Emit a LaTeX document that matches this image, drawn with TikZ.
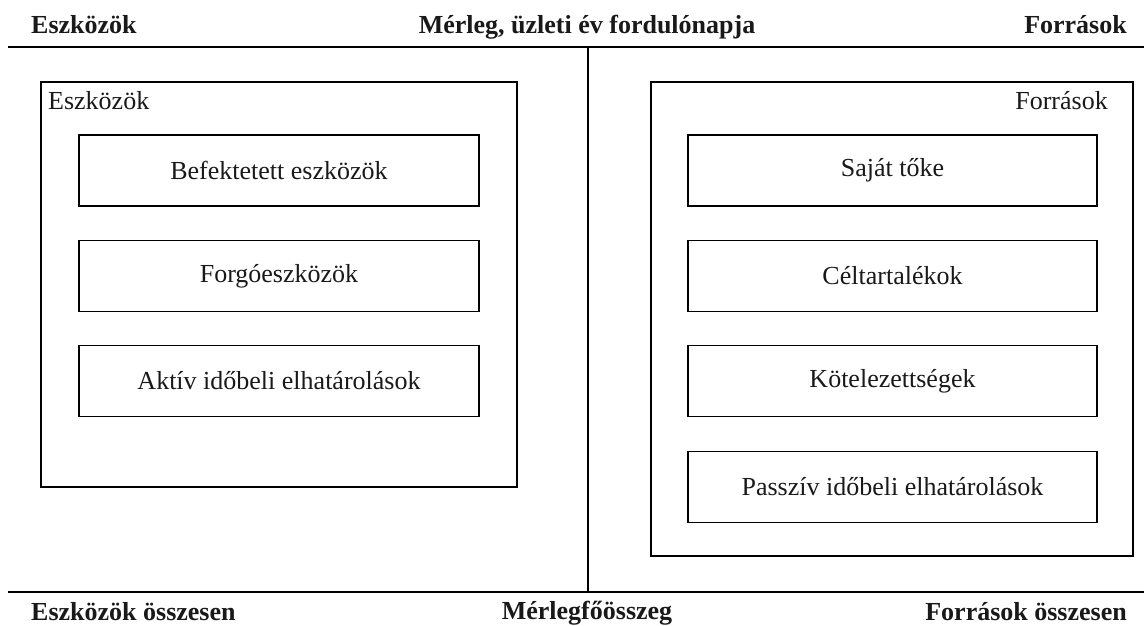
\documentclass[tikz,border=0pt]{standalone}
\usepackage{fontspec}
\setmainfont{Liberation Serif}
\begin{document}
\begin{tikzpicture}[x=1pt,y=-1pt,
  every node/.style={font=\fontsize{26}{30}\selectfont, text=black!90},
  hdr/.style={font=\fontsize{26}{30}\selectfont\bfseries, inner sep=0pt},
  frame/.style={draw, line width=1.1pt, inner sep=0pt},
  itembox/.style={draw, line width=1.1pt, inner sep=0pt, minimum height=71pt},
  rule/.style={line width=1.2pt}]
\useasboundingbox (0,0) rectangle (1144,626);
% top and bottom rules
\coordinate (tl) at (8,47);
\coordinate (tr) at (1144,47);
\coordinate (tm) at (588,47);
\coordinate (bl) at (8,592);
\coordinate (br) at (1144,592);
\coordinate (bm) at (588,592);
\draw[rule] (tl) -- (tr);
\draw[rule] (bl) -- (br);
\draw[rule] (tm) -- (bm);
% headers
\node[hdr, anchor=base west] (hl) at (31,34) {Eszközök};
\node[hdr, anchor=base] (hm) at (587,34) {Mérleg, üzleti év fordulónapja};
\node[hdr, anchor=base east] (hr) at (1127,34) {Források};
\node[hdr, anchor=base west] (fl) at (31,620) {Eszközök összesen};
\node[hdr, anchor=base] (fm) at (587,619) {Mérlegfőösszeg};
\node[hdr, anchor=base east] (fr) at (1127,620) {Források összesen};
% left frame
\node[frame, minimum width=476pt, minimum height=405pt] (lbox) at (279,284.5) {};
\node[anchor=base west, inner sep=0pt] (llab) at (48,110) {Eszközök};
\node[itembox, minimum width=400pt] (l1) at (279,170.5) {Befektetett eszközök};
\node[itembox, minimum width=400pt] (l2) at (279,276) {Forgóeszközök};
\node[itembox, minimum width=400pt] (l3) at (279,381) {Aktív időbeli elhatárolások};
% right frame
\node[frame, minimum width=482pt, minimum height=474pt] (rbox) at (892,319) {};
\node[anchor=base east, inner sep=0pt] (rlab) at (1108,110) {Források};
\node[itembox, minimum width=409pt] (r1) at (892.5,170.5) {Saját tőke};
\node[itembox, minimum width=409pt] (r2) at (892.5,276) {Céltartalékok};
\node[itembox, minimum width=409pt] (r3) at (892.5,381) {Kötelezettségek};
\node[itembox, minimum width=409pt] (r4) at (892.5,487) {Passzív időbeli elhatárolások};
\end{tikzpicture}
\end{document}
